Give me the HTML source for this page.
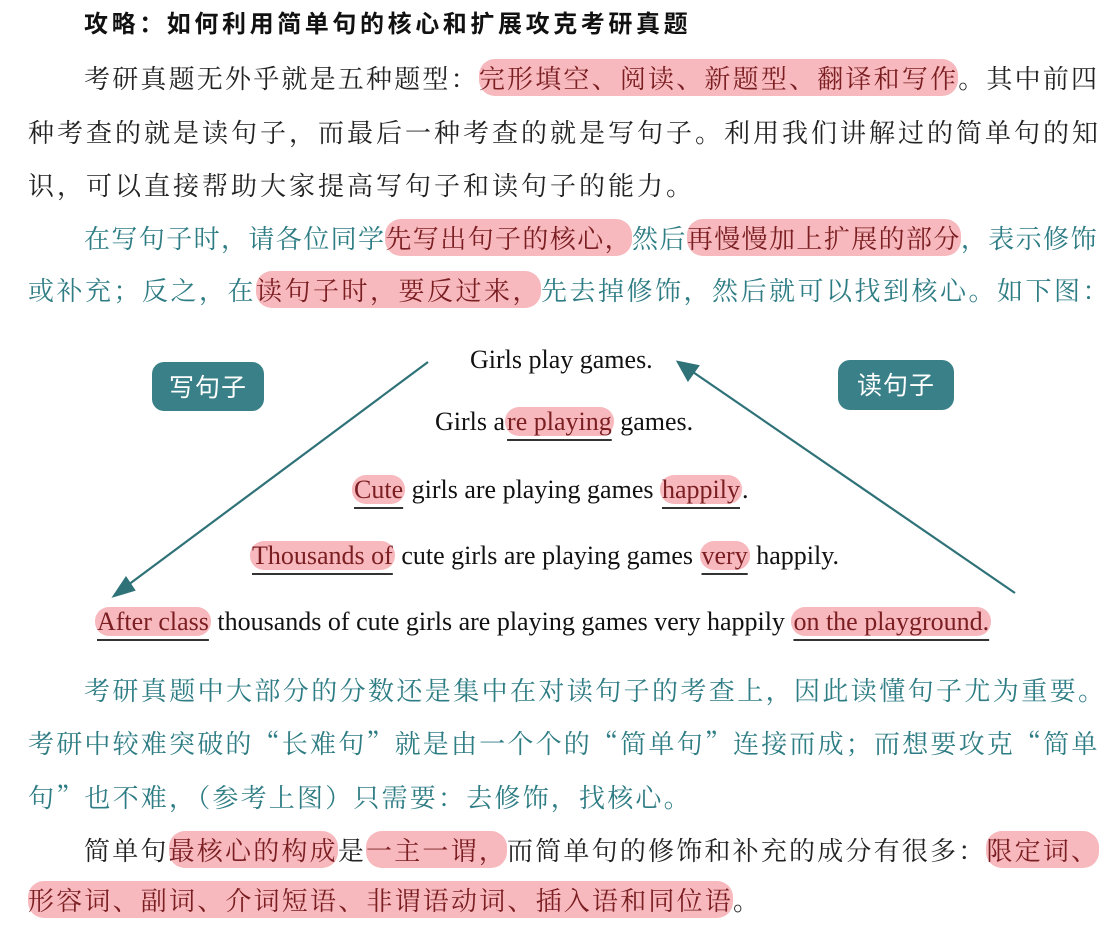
<!DOCTYPE html>
<html><head><meta charset="utf-8">
<style>
body{margin:0;width:1120px;height:926px;background:#fff;position:relative;overflow:hidden}
.l{position:absolute;white-space:nowrap;font-family:"Noto Serif CJK SC","Liberation Serif",serif;font-size:26px;letter-spacing:2.2px;line-height:34px;color:#222}
.t{color:#2f7d84}
.h{background:#f7b9bd;border-radius:16px;color:#7a1e22}
.e{position:absolute;white-space:nowrap;font-family:"Liberation Serif",serif;font-size:26px;line-height:32px;color:#111}
.e .h{border-radius:14px;padding:0 2px}
.u{text-decoration:underline;text-underline-offset:9px;text-decoration-color:#333}
.box{position:absolute;background:#3a8088;color:#fff;border-radius:12px;font-family:"Noto Sans CJK SC",sans-serif;font-size:25px;text-align:center;line-height:48px;letter-spacing:1px}
</style></head><body>
<div class="l" style="left:84px;top:5px;font-family:'Noto Sans CJK SC',sans-serif;font-weight:bold;font-size:24px;letter-spacing:3.6px;color:#111">攻略：如何利用简单句的核心和扩展攻克考研真题</div>
<div class="l" style="left:84px;top:61px">考研真题无外乎就是五种题型：<span class="h">完形填空、阅读、新题型、翻译和写作</span>。其中前四</div>
<div class="l" style="left:28px;top:115px;letter-spacing:3px">种考查的就是读句子，而最后一种考查的就是写句子。利用我们讲解过的简单句的知</div>
<div class="l" style="left:28px;top:168px;letter-spacing:3px">识，可以直接帮助大家提高写句子和读句子的能力。</div>
<div class="l t" style="left:84px;top:221px;letter-spacing:1.4px">在写句子时，请各位同学<span class="h">先写出句子的核心，</span>然后<span class="h">再慢慢加上扩展的部分</span>，表示修饰</div>
<div class="l t" style="left:28px;top:273px;letter-spacing:2.5px">或补充；反之，在<span class="h">读句子时，要反过来，</span>先去掉修饰，然后就可以找到核心。如下图：</div>

<div class="box" style="left:152px;top:362px;width:112px;height:49px">写句子</div>
<div class="box" style="left:838px;top:360px;width:116px;height:50px">读句子</div>

<svg width="1120" height="926" style="position:absolute;left:0;top:0">
<g stroke="#2f7278" stroke-width="2.2" fill="#2f7278">
<line x1="428" y1="362" x2="124" y2="588"/>
<polygon points="114,596 126,578 134,590"/>
<line x1="1015" y1="593" x2="690" y2="370"/>
<polygon points="678,362 698,366 688,380"/>
</g>
</svg>

<div class="e" style="left:470px;top:344px">Girls play games.</div>
<div class="e" style="left:435px;top:406px">Girls a<span class="h u">re playing</span> games.</div>
<div class="e" style="left:352px;top:474px"><span class="h u">Cute</span> girls are playing games <span class="h u">happily</span>.</div>
<div class="e" style="left:250px;top:540px"><span class="h u">Thousands of</span> cute girls are playing games <span class="h u">very</span> happily.</div>
<div class="e" style="left:95px;top:606px"><span class="h u">After class</span> thousands of cute girls are playing games very happily <span class="h u">on the playground.</span></div>

<div class="l t" style="left:84px;top:673px;letter-spacing:2.4px">考研真题中大部分的分数还是集中在对读句子的考查上，因此读懂句子尤为重要。</div>
<div class="l t" style="left:28px;top:726px">考研中较难突破的“长难句”就是由一个个的“简单句”连接而成；而想要攻克“简单</div>
<div class="l t" style="left:28px;top:780px">句”也不难，（参考上图）只需要：去修饰，找核心。</div>
<div class="l" style="left:84px;top:833px">简单句<span class="h">最核心的构成</span>是<span class="h">一主一谓，</span>而简单句的修饰和补充的成分有很多：<span class="h">限定词、</span></div>
<div class="l" style="left:28px;top:883px;letter-spacing:2.2px"><span class="h">形容词、副词、介词短语、非谓语动词、插入语和同位语</span>。</div>
</body></html>
